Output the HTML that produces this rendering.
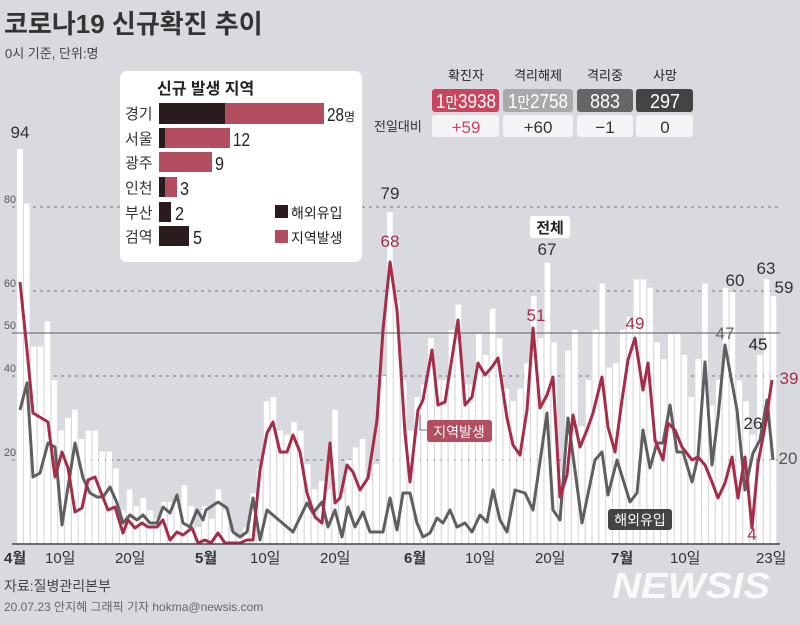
<!DOCTYPE html>
<html><head><meta charset="utf-8"><style>
body{margin:0;width:800px;height:620px;overflow:hidden;background:#d9dae0;font-family:"Liberation Sans","Noto Sans CJK KR",sans-serif}
svg text{font-family:"Liberation Sans","Noto Sans CJK KR",sans-serif}
</style></head><body>
<svg id="s" width="800" height="620" xmlns="http://www.w3.org/2000/svg">
<rect width="800" height="620" fill="#d9dae0"/>
<g id="grid" stroke="#777" stroke-width="1" stroke-dasharray="3,4">
<line x1="12" y1="207" x2="780" y2="207"/><line x1="12" y1="291" x2="780" y2="291"/>
<line x1="12" y1="376" x2="780" y2="376"/><line x1="12" y1="460" x2="780" y2="460"/>
</g>
<g id="bars" fill="#fff"></g>
<line x1="12" y1="333" x2="780" y2="333" stroke="#777" stroke-width="1.2"/>
<g font-size="11" fill="#555">
<text x="4" y="203" textLength="12" lengthAdjust="spacingAndGlyphs">80</text><text x="4" y="287" textLength="12" lengthAdjust="spacingAndGlyphs">60</text><text x="4" y="329" textLength="12" lengthAdjust="spacingAndGlyphs">50</text><text x="4" y="372" textLength="12" lengthAdjust="spacingAndGlyphs">40</text><text x="4" y="456" textLength="12" lengthAdjust="spacingAndGlyphs">20</text></g>
<polyline id="gray" fill="none" stroke="#5f5f5f" stroke-width="3" stroke-linejoin="round"/>
<polyline id="red" fill="none" stroke="#a52d48" stroke-width="3" stroke-linejoin="round"/>
<line x1="12" y1="544" x2="780" y2="544" stroke="#444" stroke-width="1.5"/>
<g font-size="15" fill="#333">
<text x="4" y="563" font-weight="bold">4월</text><text x="45" y="563">10일</text><text x="115" y="563">20일</text>
<text x="195" y="563" font-weight="bold">5월</text><text x="250" y="563">10일</text><text x="320" y="563">20일</text>
<text x="404" y="563" font-weight="bold">6월</text><text x="465" y="563">10일</text><text x="535" y="563">20일</text>
<text x="611" y="563" font-weight="bold">7월</text><text x="670" y="563">10일</text><text x="756" y="563">23일</text></g>
<text x="4" y="33" font-size="26" font-weight="bold" fill="#333">코로나19 신규확진 추이</text>
<text x="5" y="58" font-size="13" fill="#444">0시 기준, 단위:명</text>
<text x="4" y="591" font-size="14" fill="#444">자료:질병관리본부</text>
<text x="4" y="611" font-size="12" fill="#666">20.07.23 안지혜 그래픽 기자 hokma@newsis.com</text>
<text x="612" y="598" font-size="36" font-weight="bold" font-style="italic" fill="#fff" opacity="0.85" textLength="158" lengthAdjust="spacingAndGlyphs">NEWSIS</text>
<rect x="120" y="71" width="242" height="191" rx="7" fill="#fff"/>
<text x="157" y="94" font-size="16" font-weight="bold" fill="#222">신규 발생 지역</text>
<g font-size="15" fill="#333">
<text x="125" y="119">경기</text><text x="125" y="144">서울</text><text x="125" y="168">광주</text>
<text x="125" y="193">인천</text><text x="125" y="218">부산</text><text x="125" y="242">검역</text></g>
<g fill="#2a1b1c"><rect x="159" y="103" width="66" height="21"/><rect x="159" y="128" width="6" height="20"/>
<rect x="159" y="177" width="6" height="20"/><rect x="159" y="202" width="12" height="20"/><rect x="159" y="226" width="30" height="20"/></g>
<g fill="#b24e60"><rect x="225" y="103" width="99" height="21"/><rect x="165" y="128" width="65" height="20"/>
<rect x="159" y="152" width="53" height="20"/><rect x="165" y="177" width="12" height="20"/></g>
<g font-size="18" fill="#222"><text x="327" y="121"><tspan textLength="17" lengthAdjust="spacingAndGlyphs">28</tspan><tspan font-size="12">명</tspan></text><text x="233" y="146" textLength="17" lengthAdjust="spacingAndGlyphs">12</text>
<text x="215" y="170" textLength="9" lengthAdjust="spacingAndGlyphs">9</text><text x="180" y="195" textLength="9" lengthAdjust="spacingAndGlyphs">3</text><text x="175" y="220" textLength="9" lengthAdjust="spacingAndGlyphs">2</text><text x="193" y="244" textLength="9" lengthAdjust="spacingAndGlyphs">5</text></g>
<rect x="275" y="205" width="13" height="13" fill="#2a1b1c"/><text x="291" y="218" font-size="14" fill="#222">해외유입</text>
<rect x="275" y="230" width="13" height="13" fill="#b24e60"/><text x="291" y="243" font-size="14" fill="#222">지역발생</text>
<g font-size="13" fill="#222" text-anchor="middle"><text x="466" y="80">확진자</text><text x="538" y="80">격리해제</text><text x="605" y="80">격리중</text><text x="665" y="80">사망</text></g>
<rect x="432" y="89" width="67" height="23" rx="3" fill="#c9455d"/><rect x="503" y="89" width="70" height="23" rx="3" fill="#a9a9aa"/>
<rect x="577" y="89" width="56" height="23" rx="3" fill="#666"/><rect x="636" y="89" width="57" height="23" rx="3" fill="#444"/>
<g font-size="20" fill="#fff">
<text x="436" y="108" textLength="60" lengthAdjust="spacingAndGlyphs">1<tspan font-size="16">만</tspan>3938</text>
<text x="508" y="108" textLength="60" lengthAdjust="spacingAndGlyphs">1<tspan font-size="16">만</tspan>2758</text>
<text x="590" y="108" textLength="30" lengthAdjust="spacingAndGlyphs">883</text><text x="650" y="108" textLength="30" lengthAdjust="spacingAndGlyphs">297</text></g>
<g fill="#f4f4f6"><rect x="432" y="115" width="67" height="22" rx="3"/><rect x="503" y="115" width="70" height="22" rx="3"/><rect x="577" y="115" width="56" height="22" rx="3"/><rect x="636" y="115" width="57" height="22" rx="3"/></g>
<text x="374" y="131" font-size="13" fill="#333">전일대비</text>
<g font-size="17" text-anchor="middle" fill="#333"><text x="466" y="133" fill="#c9455d">+59</text><text x="538" y="133">+60</text><text x="605" y="133">−1</text><text x="665" y="133">0</text></g>
<rect x="530" y="216" width="40" height="22" rx="3" fill="#fff"/><text x="550" y="233" font-size="15" font-weight="bold" text-anchor="middle" fill="#222">전체</text>
<g font-size="17" fill="#333" text-anchor="middle">
<text x="20" y="138">94</text><text x="390" y="199">79</text><text x="547" y="255">67</text><text x="735" y="286">60</text>
<text x="766" y="274">63</text><text x="784" y="293">59</text><text x="758" y="350" fill="#222">45</text><text x="753" y="429" fill="#333">26</text>
<text x="725" y="339" fill="#666">47</text><text x="788" y="464" fill="#555">20</text>
<g fill="#a52d48"><text x="390" y="247">68</text><text x="536" y="321">51</text><text x="635" y="329">49</text><text x="789" y="384">39</text><text x="752" y="540">4</text></g></g>
<polyline points="420,415 420,430 427,430" fill="none" stroke="#777" stroke-width="1"/>
<rect x="427" y="420" width="65" height="22" rx="3" fill="#b24e60"/><text x="459" y="437" font-size="14" fill="#fff" text-anchor="middle">지역발생</text>
<rect x="608" y="509" width="64" height="21" rx="3" fill="#444"/><text x="640" y="525" font-size="14" fill="#fff" text-anchor="middle">해외유입</text>
</svg>
<script>
var t=[94,81,47,47,53,39,27,30,32,25,27,27,22,22,18,8,13,9,11,8,6,10,10,10,14,9,4,
9,6,13,8,3,2,4,12,18,34,35,27,26,29,27,19,13,15,13,32,12,20,23,25,16,19,40,79,58,39,27,
35,38,49,39,39,51,57,38,38,50,45,56,49,37,34,37,43,59,49,67,48,17,46,51,28,39,51,62,42,43,
51,54,63,63,61,48,44,50,50,45,35,44,62,33,39,61,60,39,34,26,45,63,59];
var g=document.getElementById('bars'),h='';
for(var i=0;i<t.length;i++){var x=17.2+i*6.85,hh=t[i]*4.2;h+='<rect x="'+x.toFixed(1)+'" y="'+(544-hh).toFixed(1)+'" width="5.6" height="'+hh.toFixed(1)+'"/>';}
g.innerHTML=h;
document.getElementById('gray').setAttribute('points',"20,410 27,383 33,477 40,473 48,443 55,447 62,525 68,487 75,443 83,478 90,493 97,497 103,497 110,487 117,503 123,523 130,515 137,520 143,515 150,523 157,523 163,507 170,513 177,495 183,523 190,527 197,510 203,520 206,510 218,502 227,508 233,532 240,537 247,532 253,498 260,540 267,510 293,532 307,503 313,513 322,502 328,527 335,510 342,537 348,507 355,527 363,512 370,532 383,532 390,498 397,530 403,493 410,493 417,523 423,537 430,533 437,518 443,523 450,510 457,527 465,523 472,532 480,515 487,522 493,490 500,520 507,532 515,490 525,493 533,510 547,413 553,510 560,520 568,418 582,523 595,460 602,452 608,495 617,460 630,502 637,493 643,430 650,468 657,443 663,443 670,405 677,452 683,452 692,482 698,457 705,362 712,465 718,417 725,345 737,410 745,490 753,453 760,440 767,400 773,460");
document.getElementById('red').setAttribute('points',"20,282 27,350 33,413 48,422 55,477 62,452 68,468 75,512 82,508 88,480 95,477 102,495 108,510 115,507 123,533 128,520 135,528 142,523 148,527 157,527 163,520 170,540 177,532 183,535 192,528 198,543 205,540 211,543 218,533 225,543 233,543 240,543 247,540 253,540 260,470 267,433 273,422 280,452 287,452 293,435 300,452 307,493 315,517 322,523 330,443 335,503 340,498 347,465 353,472 360,490 368,478 377,420 383,330 390,262 397,310 405,433 410,482 418,410 423,400 432,350 438,405 445,402 458,320 465,405 472,397 478,363 485,375 492,367 498,358 507,418 513,445 520,455 527,410 533,328 540,408 547,395 553,377 560,497 567,475 573,415 580,447 587,430 593,413 602,377 608,427 615,452 622,400 628,360 635,338 643,390 648,363 655,440 663,460 668,423 675,430 682,447 692,460 698,457 705,465 712,482 718,498 725,483 732,457 738,498 745,457 752,528 758,463 765,427 772,380");
</script>
</body></html>
